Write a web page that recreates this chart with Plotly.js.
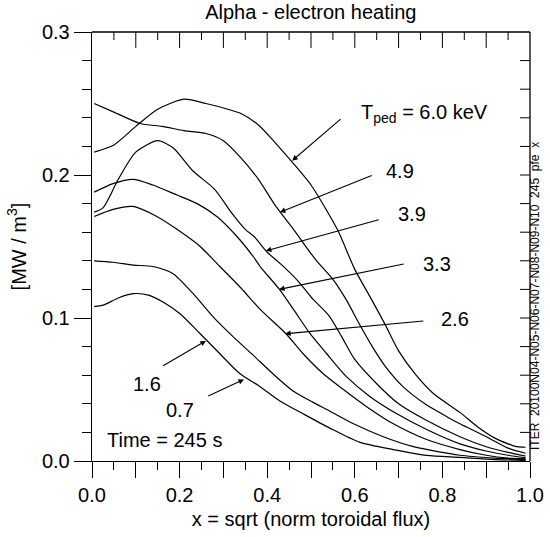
<!DOCTYPE html>
<html><head><meta charset="utf-8">
<script src="https://cdn.plot.ly/plotly-3.0.1.min.js"></script>
<style>html,body{margin:0;padding:0;background:#fff}</style>
</head><body><div id="chart" style="width:550px;height:537px"></div>
<script>
// ---- data ----
const tpedLabels = ['6.0', '4.9', '3.9', '3.3', '2.6', '1.6', '0.7'];

const x60 = [0.005,0.05,0.10,0.15,0.21,0.26,0.31,0.34,0.38,0.42,0.46,0.50,0.56,0.60,0.64,0.67,0.70,0.74,0.78,0.84,0.88,0.92,0.95,0.97,0.99];
const y60 = [0.216,0.221,0.234,0.246,0.253,0.250,0.246,0.243,0.235,0.222,0.208,0.193,0.162,0.134,0.112,0.095,0.077,0.060,0.047,0.034,0.024,0.016,0.012,0.010,0.0096];

const x49 = [0.005,0.05,0.11,0.16,0.21,0.26,0.30,0.34,0.38,0.42,0.46,0.51,0.55,0.58,0.61,0.64,0.67,0.71,0.76,0.81,0.84,0.90,0.95,0.99];
const y49 = [0.250,0.244,0.236,0.234,0.231,0.229,0.224,0.212,0.197,0.178,0.162,0.141,0.127,0.113,0.096,0.080,0.066,0.052,0.040,0.031,0.026,0.017,0.009,0.0054];

const x39 = [0.005,0.025,0.06,0.10,0.15,0.185,0.23,0.28,0.32,0.35,0.37,0.40,0.43,0.47,0.505,0.54,0.57,0.60,0.65,0.70,0.76,0.84,0.90,0.95,0.99];
const y39 = [0.174,0.177,0.197,0.216,0.224,0.219,0.203,0.190,0.173,0.162,0.157,0.146,0.138,0.126,0.113,0.102,0.087,0.071,0.054,0.040,0.029,0.017,0.010,0.006,0.0035];

const x33 = [0.005,0.048,0.094,0.139,0.194,0.24,0.285,0.331,0.368,0.384,0.428,0.46,0.498,0.536,0.581,0.635,0.696,0.764,0.84,0.90,0.95,0.99];
const y33 = [0.188,0.194,0.197,0.193,0.186,0.180,0.171,0.157,0.143,0.136,0.120,0.106,0.089,0.075,0.059,0.045,0.033,0.022,0.012,0.007,0.004,0.0023];

const x26 = [0.005,0.048,0.094,0.148,0.194,0.247,0.292,0.34,0.384,0.443,0.482,0.528,0.574,0.627,0.688,0.764,0.84,0.90,0.95,0.99];
const y26 = [0.171,0.176,0.178,0.171,0.162,0.150,0.136,0.121,0.106,0.089,0.075,0.061,0.050,0.038,0.026,0.015,0.008,0.004,0.002,0.0015];

const x16 = [0.005,0.048,0.094,0.139,0.185,0.231,0.276,0.322,0.368,0.413,0.459,0.505,0.536,0.597,0.665,0.734,0.84,0.92,0.99];
const y16 = [0.140,0.139,0.137,0.136,0.131,0.117,0.101,0.087,0.074,0.061,0.049,0.041,0.036,0.026,0.017,0.010,0.004,0.002,0.001];

const x07 = [0.005,0.026,0.06,0.094,0.129,0.163,0.201,0.247,0.292,0.338,0.384,0.429,0.482,0.543,0.612,0.688,0.764,0.84,0.92,0.99];
const y07 = [0.108,0.109,0.114,0.117,0.116,0.111,0.103,0.089,0.075,0.061,0.052,0.042,0.033,0.023,0.013,0.008,0.004,0.0026,0.001,0.0005];

// x tick labels shown only every 0.2 (odd tenths are hidden)
const xHiddenLabels = ['0.1', '0.3', '0.5', '0.7', '0.9'];

// ---- traces ----
const series = [[x60,y60],[x49,y49],[x39,y39],[x33,y33],[x26,y26],[x16,y16],[x07,y07]];
const FONT = '"Liberation Sans", Arial, Helvetica, sans-serif';
const traces = series.map((s, i) => ({
  x: s[0], y: s[1], type: 'scatter', mode: 'lines', name: tpedLabels[i],
  line: {color: '#000', width: 1.2, shape: 'spline', smoothing: 0.7},
  hoverinfo: 'skip'
}));

// ---- annotations: label text positions and arrow (head, tail) ----
const labelPos = [[0.758,0.243],[0.703,0.203],[0.730,0.173],[0.787,0.138],[0.829,0.099],[0.125,0.054],[0.201,0.036]];
const arrowHead = [[0.457,0.210],[0.429,0.174],[0.397,0.147],[0.427,0.120],[0.441,0.089],[0.260,0.084],[0.347,0.057]];
const arrowTail = [[0.571,0.240],[0.642,0.200],[0.658,0.169],[0.715,0.138],[0.760,0.098],[0.159,0.066],[0.262,0.045]];

const annotations = [];
tpedLabels.forEach((lab, i) => {
  annotations.push({
    x: labelPos[i][0], y: labelPos[i][1], xref: 'x', yref: 'y',
    text: i === 0 ? 'T<sub>ped</sub> = ' + lab + ' keV' : lab,
    showarrow: false, font: {family: FONT, size: 20, color: '#000'}
  });
  annotations.push({
    x: arrowHead[i][0], y: arrowHead[i][1], ax: arrowTail[i][0], ay: arrowTail[i][1],
    xref: 'x', yref: 'y', axref: 'x', ayref: 'y', text: '', showarrow: true,
    arrowhead: 2, arrowsize: 1, arrowwidth: 1.1, arrowcolor: '#000', standoff: 0, startstandoff: 0
  });
});
annotations.push({x: 0.03, y: 0.015, xref: 'x', yref: 'y', xanchor: 'left', text: 'Time = 245 s',
  showarrow: false, font: {family: FONT, size: 20, color: '#000'}});
annotations.push({x: (544 - 92) / 438, y: (461 - 296) / 429, xref: 'paper', yref: 'paper',
  text: 'ITER  20100N04-N05-N06-N07-N08-N09-N10  245  pfe  x',
  showarrow: false, textangle: -90, font: {family: FONT, size: 12, color: '#000'}});

const labelAlias = {};
xHiddenLabels.forEach(l => { labelAlias[l] = ' '; });

// ---- frame: top and right sides with inward ticks (drawn as layout shapes) ----
const PLOT_W = 550 - 92 - 20, PLOT_H = 537 - 32 - 76;
const shapes = [
  {type: 'line', xref: 'paper', yref: 'paper', x0: 0, x1: 1, y0: 1, y1: 1, line: {color: '#000', width: 1.3}},
  {type: 'line', xref: 'paper', yref: 'paper', x0: 1, x1: 1, y0: 0, y1: 1, line: {color: '#000', width: 1.3}}
];
for (let k = 1; k < 20; k++) {            // top: every 0.05, longer every 0.1
  const len = (k % 2 === 0 ? 16 : 8) / PLOT_H;
  shapes.push({type: 'line', xref: 'x', yref: 'paper', x0: k * 0.05, x1: k * 0.05, y0: 1, y1: 1 - len,
    line: {color: '#000', width: 1}});
}
for (let k = 1; k < 15; k++) {            // right: every 0.02
  shapes.push({type: 'line', xref: 'paper', yref: 'y', x0: 1, x1: 1 - 10 / PLOT_W, y0: k * 0.02, y1: k * 0.02,
    line: {color: '#000', width: 1}});
}

const layout = {
  width: 550, height: 537,
  margin: {l: 92, r: 20, t: 32, b: 76},
  paper_bgcolor: '#fff', plot_bgcolor: '#fff',
  showlegend: false,
  font: {family: FONT, size: 20, color: '#000'},
  title: {text: 'Alpha - electron heating', x: 0.565, xanchor: 'center', y: 0.978, yanchor: 'middle',
    font: {family: FONT, size: 20, color: '#000'}},
  xaxis: {
    range: [0, 1], tickmode: 'linear', tick0: 0, dtick: 0.1, tickformat: '.1f', labelalias: labelAlias,
    ticks: 'outside', ticklen: 16, tickwidth: 1, tickcolor: '#000',
    minor: {dtick: 0.05, tick0: 0, ticks: 'outside', ticklen: 8, tickwidth: 1, tickcolor: '#000', showgrid: false},
    showline: true, linecolor: '#000', linewidth: 1.3, showgrid: false, zeroline: false,
    tickfont: {family: FONT, size: 20, color: '#000'},
    title: {text: 'x = sqrt (norm toroidal flux)', font: {family: FONT, size: 20, color: '#000'}, standoff: 6}
  },
  yaxis: {
    range: [0, 0.3], tickmode: 'linear', tick0: 0, dtick: 0.1, tickformat: '.1f',
    ticks: 'outside', ticklen: 17, tickwidth: 1, tickcolor: '#000',
    minor: {dtick: 0.02, tick0: 0, ticks: 'outside', ticklen: 9, tickwidth: 1, tickcolor: '#000', showgrid: false},
    showline: true, linecolor: '#000', linewidth: 1.3, showgrid: false, zeroline: false,
    tickfont: {family: FONT, size: 20, color: '#000'},
    title: {text: '[MW / m<sup>3</sup>]', font: {family: FONT, size: 20, color: '#000'}, standoff: 10}
  },
  shapes: shapes,
  annotations: annotations
};

Plotly.newPlot('chart', traces, layout, {staticPlot: true, displayModeBar: false});
</script></body></html>
